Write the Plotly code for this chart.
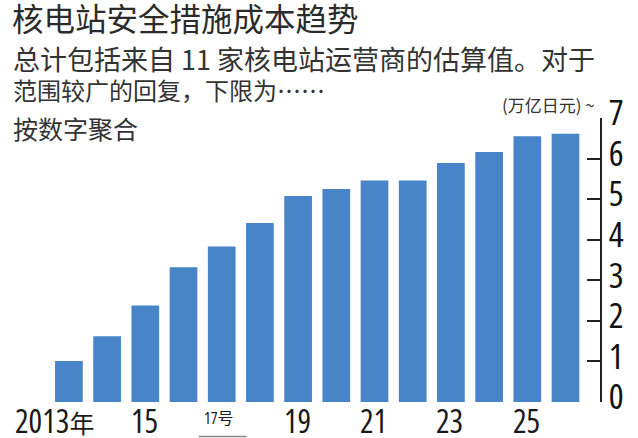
import plotly.graph_objects as go

# cost of nuclear plant safety measures, trillion yen
years = [2013, 2014, 2015, 2016, 2017, 2018, 2019, 2020, 2021, 2022, 2023, 2024, 2025, 2026]
costs = [1.01, 1.62, 2.38, 3.32, 3.83, 4.41, 5.08, 5.25, 5.46, 5.46, 5.89, 6.16, 6.55, 6.61]

label_years = [2013, 2015, 2017, 2019, 2021, 2023, 2025]
label_texts = ["2013年", "15", "17号", "19", "21", "23", "25"]

y_ticks = [0, 1, 2, 3, 4, 5, 6, 7]

title = "核电站安全措施成本趋势"
subtitle_lines = ["总计包括来自 11 家核电站运营商的估算值。对于",
                  "范围较广的回复，下限为……",
                  "按数字聚合"]
unit = "(万亿日元) ~"

CJK = "Noto Sans CJK SC"
NUM = "Open Sans, " + CJK


def narrow(s):
    # condensed digits like the newspaper figure
    return '<span style="font-stretch:75%">' + s + '</span>'


fig = go.Figure()
fig.add_bar(x=years, y=costs, marker=dict(color="#4884c8", line=dict(width=0)))

W, H = 638, 438
L, R, T, B = 0, 38, 118, 36
pw, ph = W - L - R, H - T - B


def px_x(p):
    return (p - L) / pw


def px_y(p):
    return (H - B - p) / ph


anns = []
# year labels under the bars
for yr, txt in zip(label_years, label_texts):
    if txt.endswith("号"):
        anns.append(dict(x=yr, y=0, xref="x", yref="paper", text=narrow(txt[:-1]) + txt[-1],
                         showarrow=False, xanchor="center", yanchor="middle", yshift=-16, xshift=-3,
                         font=dict(family=NUM, size=16, color="#1a1a1a")))
    elif txt.endswith("年"):
        anns.append(dict(x=yr, y=0, xref="x", yref="paper",
                         text=narrow(txt[:-1]) + '<span style="font-size:25px">' + txt[-1] + '</span>',
                         showarrow=False, xanchor="right", yanchor="middle", yshift=-18, xshift=27,
                         font=dict(family=NUM, size=32, color="#1a1a1a")))
    else:
        anns.append(dict(x=yr, y=0, xref="x", yref="paper", text=narrow(txt), showarrow=False,
                         xanchor="center", yanchor="middle", yshift=-18, xshift=-1,
                         font=dict(family=NUM, size=32, color="#1a1a1a")))

anns.append(dict(x=px_x(10), y=px_y(17), xref="paper", yref="paper", text=title,
                 showarrow=False, xanchor="left", yanchor="middle",
                 font=dict(family=CJK, size=31.5, color="#2b2b2b")))
for line, ypx, size in zip(subtitle_lines, [59, 90, 128], [27, 24, 25]):
    anns.append(dict(x=px_x(11), y=px_y(ypx), xref="paper", yref="paper", text=line,
                     showarrow=False, xanchor="left", yanchor="middle",
                     font=dict(family=CJK, size=size, color="#333333")))
anns.append(dict(x=px_x(597), y=px_y(105), xref="paper", yref="paper", text=unit,
                 showarrow=False, xanchor="right", yanchor="middle",
                 font=dict(family=CJK, size=17, color="#333333")))

fig.update_layout(
    width=W, height=H,
    margin=dict(l=L, r=R, t=T, b=B, pad=0),
    paper_bgcolor="white", plot_bgcolor="white",
    showlegend=False,
    bargap=0.275,
    annotations=anns,
    shapes=[dict(type="line", xref="x", yref="paper", x0=2016.4, x1=2017.65,
                 y0=px_y(436.5), y1=px_y(436.5), line=dict(color="#888888", width=1.5))],
)
fig.update_xaxes(range=[2011.196, 2026.903], visible=False, fixedrange=True)
fig.update_yaxes(range=[0, 7], side="right", tickvals=y_ticks,
                 ticktext=[narrow(str(v)) for v in y_ticks],
                 ticks="inside", ticklen=13,
                 tickwidth=1.5, tickcolor="#222222", showline=True, linecolor="#222222",
                 linewidth=1.5, showgrid=False, zeroline=False, ticklabelstandoff=0,
                 ticklabelshift=-5, fixedrange=True,
                 tickfont=dict(family="Open Sans", size=35, color="#111111"))

# drop the default page margin so the figure sits at the window origin
fig.write_html("out.html", config={"displayModeBar": False},
               post_script="document.body.style.margin='0px';")
